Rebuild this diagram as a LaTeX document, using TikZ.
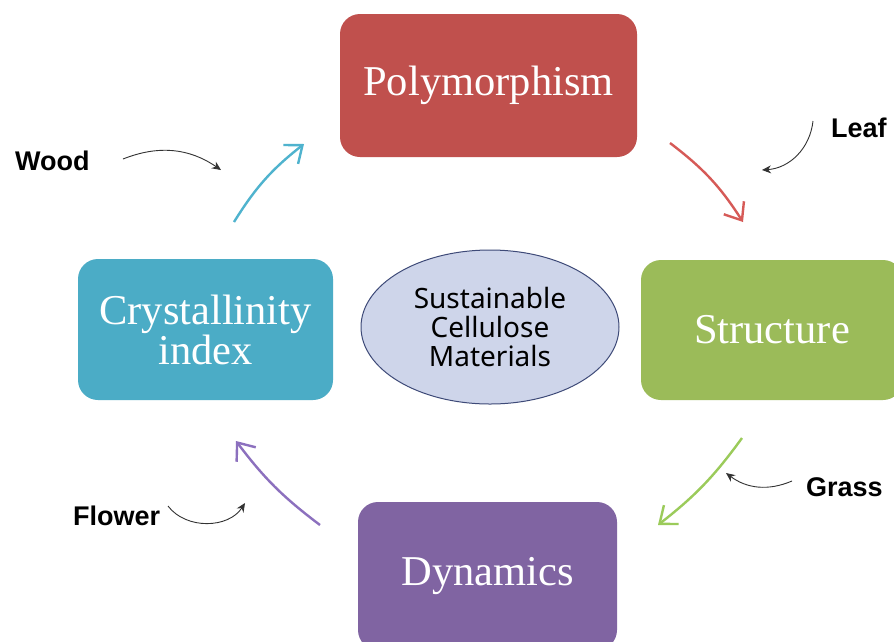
\documentclass[tikz,border=0pt]{standalone}
\usepackage{fontspec}
\setmainfont{Liberation Serif}
\newfontfamily\lblfont{Liberation Sans}
\newfontfamily\ellfont{Noto Sans}
\usetikzlibrary{arrows.meta,shapes.geometric}
\definecolor{cred}{HTML}{C0504D}
\definecolor{cgreen}{HTML}{9BBB59}
\definecolor{cpurple}{HTML}{8064A2}
\definecolor{cblue}{HTML}{4BACC6}
\definecolor{ared}{HTML}{D65A57}
\definecolor{agreen}{HTML}{9BCB5A}
\definecolor{apurple}{HTML}{8C70BE}
\definecolor{ablue}{HTML}{4FB3CE}
\definecolor{ellfill}{HTML}{CED5EA}
\definecolor{elldraw}{HTML}{3E4A78}
\tikzset{
  box/.style={rounded corners=20pt, text=white, font=\fontsize{42.5}{40}\selectfont, align=center, inner sep=0pt},
  lbl/.style={font=\lblfont\bfseries\fontsize{27}{29}\selectfont, inner sep=0pt},
  cyc/.style={line width=2.4pt, -{Straight Barb[length=15pt,width=24pt,line width=2.4pt]}},
  small/.style={line width=0.9pt, black!80, -{Stealth[length=9pt,width=8pt]}},
}
\begin{document}
\begin{tikzpicture}[x=1pt,y=-1pt]
\useasboundingbox (0,0) rectangle (894,641);
\fill[white] (0,0) rectangle (894,641);
\clip (0,0) rectangle (894,641);
\node[box, fill=cred, minimum width=297pt, minimum height=143pt] (poly) at (488.5,85.5) {Polymorphism};
\node[box, fill=cgreen, minimum width=262pt, minimum height=140pt] (struct) at (772,330) {Structure};
\node[box, fill=cpurple, minimum width=259pt, minimum height=148pt] (dyn) at (487.5,576) {Dynamics};
\node[box, fill=cblue, minimum width=255pt, minimum height=141pt] (cryst) at (205.5,329.5) {Crystallinity\\index};
\node[ellipse, draw=elldraw, line width=1pt, fill=ellfill, minimum width=258pt, minimum height=154pt, align=center, font=\ellfont\fontsize{28}{29}\selectfont, inner sep=0pt] (core) at (490,327) {Sustainable\\Cellulose\\Materials};

\coordinate (b1) at (234,222); \coordinate (b2) at (304,144);
\coordinate (r1) at (670,143); \coordinate (r2) at (743,222);
\coordinate (g1) at (742,438); \coordinate (g2) at (658,525);
\coordinate (p1) at (320,525); \coordinate (p2) at (236,441);
\draw[cyc, ablue] (b1) to[bend left=10] (b2);
\draw[cyc, ared] (r1) to[bend left=10] (r2);
\draw[cyc, agreen] (g1) to[bend left=8] (g2);
\draw[cyc, apurple] (p1) to[bend left=8] (p2);

\node[lbl, anchor=west] (wood) at (15,161) {Wood};
\node[lbl, anchor=west] (leaf) at (831,128) {Leaf};
\node[lbl, anchor=west] (grass) at (806,487) {Grass};
\node[lbl, anchor=west] (flower) at (73,516) {Flower};
\coordinate (wood1) at (123,159); \coordinate (wood2) at (221,170);
\coordinate (leaf1) at (813,121); \coordinate (leaf2) at (762,170);
\coordinate (grass1) at (792,481); \coordinate (grass2) at (726,473);
\coordinate (fl1) at (168,506); \coordinate (fl2) at (245,503);
\draw[small] (wood1) to[bend left=28] (wood2);
\draw[small] (leaf1) to[bend left=40] (leaf2);
\draw[small] (grass1) to[bend left=30] (grass2);
\draw[small] (fl1) to[bend right=55] (fl2);
\end{tikzpicture}
\end{document}
